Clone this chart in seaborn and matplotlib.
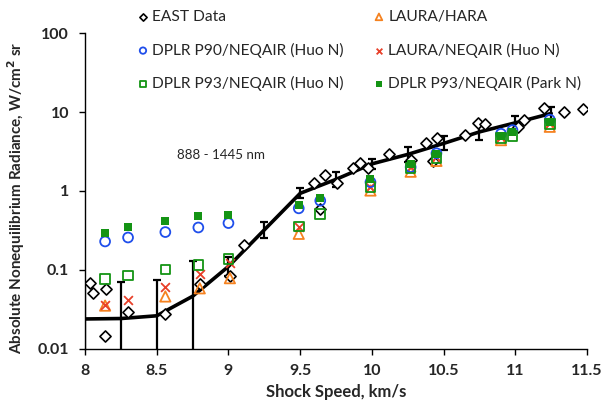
import numpy as np
import pandas as pd
import matplotlib
matplotlib.use("Agg")
import matplotlib.pyplot as plt
import seaborn as sns

# --- data ------------------------------------------------------------------
east_speed = [8.035, 8.054, 8.144, 8.14, 8.30, 8.56, 8.80, 9.01, 9.11, 9.595,
              9.64, 9.67, 9.755, 9.87, 9.918, 9.97, 10.12, 10.27, 10.375,
              10.425, 10.457, 10.65, 10.74, 10.79, 11.02, 11.06, 11.2, 11.34,
              11.475]
east_rad = [0.068, 0.051, 0.057, 0.0142, 0.0287, 0.0276, 0.066, 0.082, 0.203,
            1.27, 0.59, 1.58, 1.27, 1.94, 2.24, 1.94, 2.94, 2.47, 4.1,
            2.42, 4.74, 5.13, 7.21, 7.0, 6.53, 7.94, 11.2, 10.1, 11.0]

model_speed = [8.14, 8.30, 8.56, 8.79, 9.0, 9.49, 9.64, 9.99, 10.27, 10.45,
               10.9, 10.98, 11.24]
p90_huo = [0.228, 0.256, 0.30, 0.343, 0.39, 0.60, 0.75, 1.29, 2.0, 3.0,
           5.3, 5.9, 8.0]
p93_huo = [0.076, 0.0845, 0.10, 0.115, 0.136, 0.353, 0.51, 1.11, 1.95, 2.6,
           4.7, 5.0, 7.0]
p93_park = [0.296, 0.343, 0.42, 0.473, 0.497, 0.665, 0.82, 1.41, 2.2, 2.9,
            5.0, 5.6, 7.5]

laura_neq_speed = [8.14, 8.30, 8.56, 8.80, 9.01, 9.49, 9.99, 10.27, 10.45,
                   10.9, 11.24]
laura_neq = [0.036, 0.041, 0.061, 0.089, 0.123, 0.353, 1.13, 2.0, 2.7, 4.8, 7.3]

laura_hara_speed = [8.14, 8.56, 8.80, 9.01, 9.49, 9.99, 10.27, 10.45, 10.9,
                    11.24]
laura_hara = [0.035, 0.0457, 0.058, 0.078, 0.285, 1.01, 1.75, 2.4, 4.4, 6.5]

# binned average with error bars
bin_speed = [8.0, 8.25, 8.5, 8.75, 9.0, 9.25, 9.5, 9.75, 10.0, 10.25, 10.5,
             10.75, 11.0, 11.25]
bin_rad = [0.0237, 0.024, 0.026, 0.046, 0.11, 0.32, 0.93, 1.4, 2.2, 2.9, 4.0,
           5.6, 7.3, 9.6]
bin_upper = [0.068, 0.069, 0.074, 0.13, 0.145, 0.40, 1.08, 1.71, 2.54, 3.64,
             5.02, 7.2, 8.9, 11.5]
bin_lower = [0.001, 0.001, 0.001, 0.001, 0.082, 0.256, 0.81, 1.11, 1.9, 2.35,
             3.31, 4.43, 6.05, 8.1]

BLUE = "#1f4eeb"
GREEN = "#149414"
ORANGE = "#f58220"
RED = "#e8402a"

sns.set_theme(style="ticks")
plt.rcParams["font.family"] = ["Lato", "DejaVu Sans"]

fig, ax = plt.subplots(figsize=(6.09, 4.05), dpi=100)
fig.subplots_adjust(left=0.1396, right=0.964, top=0.918, bottom=0.1395)

bins = pd.DataFrame({"speed": bin_speed, "rad": bin_rad})
sns.lineplot(data=bins, x="speed", y="rad", color="black", linewidth=2.6,
             ax=ax, zorder=3, legend=False)
rad = np.array(bin_rad)
yerr = np.vstack([rad - np.array(bin_lower), np.array(bin_upper) - rad])
ax.errorbar(bin_speed, bin_rad, yerr=yerr, fmt="none", ecolor="black",
            elinewidth=1.6, capsize=3, capthick=1.6, zorder=3)

sns.scatterplot(x=east_speed, y=east_rad, marker="D", s=32,
                facecolor="white", edgecolor="black", linewidth=1.2,
                ax=ax, zorder=4, label="EAST Data")
sns.scatterplot(x=laura_hara_speed, y=laura_hara, marker="^", s=55,
                facecolor="none", edgecolor=ORANGE, linewidth=1.3, ax=ax,
                zorder=5, label="LAURA/HARA")
sns.scatterplot(x=laura_neq_speed, y=laura_neq, marker="x", s=40, color=RED,
                linewidth=1.3, ax=ax, zorder=5, label="LAURA/NEQAIR (Huo N)")
sns.scatterplot(x=model_speed, y=p90_huo, marker="o", s=50, facecolor="none",
                edgecolor=BLUE, linewidth=1.3, ax=ax, zorder=5,
                label="DPLR P90/NEQAIR (Huo N)")
sns.scatterplot(x=model_speed, y=p93_huo, marker="s", s=48, facecolor="none",
                edgecolor=GREEN, linewidth=1.3, ax=ax, zorder=5,
                label="DPLR P93/NEQAIR (Huo N)")
sns.scatterplot(x=model_speed, y=p93_park, marker="s", s=32, color=GREEN,
                linewidth=0, ax=ax, zorder=6,
                label="DPLR P93/NEQAIR (Park N)")

ax.set_yscale("log")
ax.set_xlim(8, 11.5)
ax.set_ylim(0.01, 100)
ax.set_xticks(np.arange(8, 11.51, 0.5))
ax.set_xticklabels(["8", "8.5", "9", "9.5", "10", "10.5", "11", "11.5"])
ax.set_yticks([0.01, 0.1, 1, 10, 100])
ax.set_yticklabels(["0.01", "0.1", "1", "10", "100"])
ax.minorticks_off()
ax.tick_params(axis="both", direction="out", length=4.5, width=1,
               color="black", labelsize=11.5, pad=7)
for lab in ax.get_xticklabels() + ax.get_yticklabels():
    lab.set_fontweight("bold")
for side in ["left", "bottom"]:
    ax.spines[side].set_color("black")
    ax.spines[side].set_linewidth(1)
sns.despine(ax=ax)

ax.set_xlabel("Shock Speed, km/s", fontsize=12, fontweight="bold", labelpad=4)
ax.set_ylabel("Absolute Nonequilibrium Radiance, W/cm$^{\\mathbf{2}}$ sr",
              fontsize=11, fontweight="bold")
ax.yaxis.set_label_coords(-0.116, 0.477)

ax.text(8.945, 2.86, "888 - 1445 nm", fontsize=9.6, ha="center",
        va="center")

handles, labels = ax.get_legend_handles_labels()
order = [0, 3, 4, 1, 2, 5]
ax.get_legend().remove()
fig.legend([handles[i] for i in order], [labels[i] for i in order],
           ncol=2, loc="upper left", bbox_to_anchor=(0.199, 1.01),
           frameon=False, fontsize=11.2, handletextpad=0.1,
           columnspacing=1.75, labelspacing=1.2, markerscale=0.65,
           handlelength=1.0)

fig.savefig("out.png", dpi=100)
